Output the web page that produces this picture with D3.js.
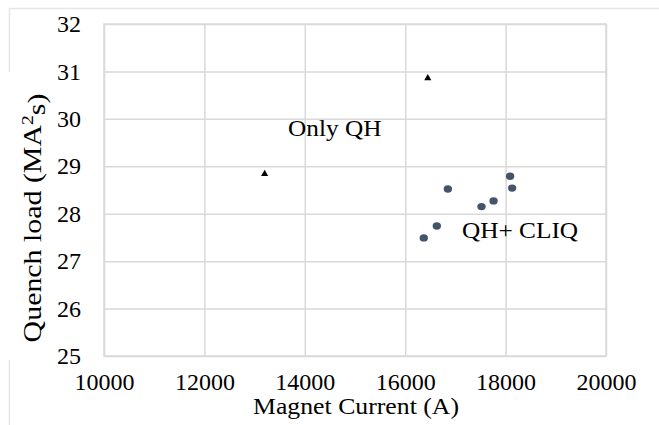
<!DOCTYPE html>
<html>
<head>
<meta charset="utf-8">
<script src="https://cdn.jsdelivr.net/npm/d3@7"></script>
</head>
<body style="margin:0; background:#fff">
<svg id="chart" width="659" height="425"></svg>
<script>
// data
var qhCurrent = [13200, 16450];
var qhLoad = [28.84, 30.86];
var cliqCurrent = [16370, 16630, 16850, 17520, 17760, 18090, 18130];
var cliqLoad = [27.49, 27.74, 28.52, 28.15, 28.27, 28.79, 28.54];
var xTicks = [10000, 12000, 14000, 16000, 18000, 20000];
var yTicks = [25, 26, 27, 28, 29, 30, 31, 32];
var labels = ["Only QH", "QH+ CLIQ"];

var svg = d3.select("#chart");
var gridColor = "#d9d9d9";
var fontFam = "'Liberation Serif'";

// plot area
var plotLeft = 104, plotRight = 606, plotTop = 24, plotBottom = 356;

var x = d3.scaleLinear().domain([10000, 20000]).range([plotLeft, plotRight]);
var y = d3.scaleLinear().domain([25, 32]).range([plotBottom, plotTop]);

// faint chart frame (partly covered by the axis title)
svg.append("path")
    .attr("d", "M9.5,72 V8.5 H659 M9.5,360 V425")
    .attr("fill", "none")
    .attr("stroke", "#e6e6e6")
    .attr("stroke-width", 1.5);

// gridlines + labels through axes
var xAxis = svg.append("g")
    .attr("transform", "translate(0," + plotBottom + ")")
    .call(d3.axisBottom(x).tickValues(xTicks).tickSize(-(plotBottom - plotTop)).tickPadding(17)
        .tickFormat(d3.format("d")));
xAxis.attr("font-family", null).attr("font-size", null);
xAxis.select(".domain").remove();
xAxis.selectAll("line").attr("stroke", gridColor).attr("stroke-width", 1.5);
xAxis.selectAll("text")
    .attr("fill", "#000")
    .style("font-family", fontFam)
    .style("font-size", "24px")
    .attr("dy", "0.71em");

var yAxis = svg.append("g")
    .attr("transform", "translate(" + plotLeft + ",0)")
    .call(d3.axisLeft(y).tickValues(yTicks).tickSize(-(plotRight - plotLeft)).tickPadding(23)
        .tickFormat(d3.format("d")));
yAxis.attr("font-family", null).attr("font-size", null);
yAxis.select(".domain").remove();
yAxis.selectAll("line").attr("stroke", gridColor).attr("stroke-width", 1.5);
yAxis.selectAll("text")
    .attr("fill", "#000")
    .style("font-family", fontFam)
    .style("font-size", "24px")
    .attr("dy", "0.32em");

// plot border
svg.append("rect")
    .attr("x", plotLeft).attr("y", plotTop)
    .attr("width", plotRight - plotLeft).attr("height", plotBottom - plotTop)
    .attr("fill", "none")
    .attr("stroke", gridColor)
    .attr("stroke-width", 1.5);

// Only QH: black triangles
svg.selectAll(".tri")
    .data(qhCurrent)
    .enter().append("path")
    .attr("class", "tri")
    .attr("d", d3.symbol().type(d3.symbolTriangle).size(22))
    .attr("transform", function (d, i) {
        return "translate(" + x(d) + "," + y(qhLoad[i]) + ")";
    })
    .attr("fill", "#000");

// QH + CLIQ: slate dots
svg.selectAll(".dot")
    .data(cliqCurrent)
    .enter().append("ellipse")
    .attr("class", "dot")
    .attr("cx", function (d) { return x(d); })
    .attr("cy", function (d, i) { return y(cliqLoad[i]); })
    .attr("rx", 4.2)
    .attr("ry", 3.7)
    .attr("fill", "#44546a");

// annotations (the picture is slightly stretched sideways)
svg.append("text")
    .attr("transform", "translate(288,136) scale(1.1,1)")
    .style("font-family", fontFam)
    .style("font-size", "23px")
    .text(labels[0]);

svg.append("text")
    .attr("transform", "translate(462,238) scale(1.1,1)")
    .style("font-family", fontFam)
    .style("font-size", "23px")
    .text(labels[1]);

// axis titles
svg.append("text")
    .attr("transform", "translate(356,414) scale(1.12,1)")
    .attr("text-anchor", "middle")
    .style("font-family", fontFam)
    .style("font-size", "23px")
    .text("Magnet Current (A)");

var yt = svg.append("text")
    .attr("transform", "translate(41,218) rotate(-90) scale(1.15,1)")
    .attr("text-anchor", "middle")
    .style("font-family", fontFam)
    .style("font-size", "26px");
yt.append("tspan").text("Quench load (MA");
yt.append("tspan").attr("dy", "-0.45em").style("font-size", "17px").text("2");
yt.append("tspan").attr("dy", "0.45em").text("s)");
</script>
</body>
</html>
